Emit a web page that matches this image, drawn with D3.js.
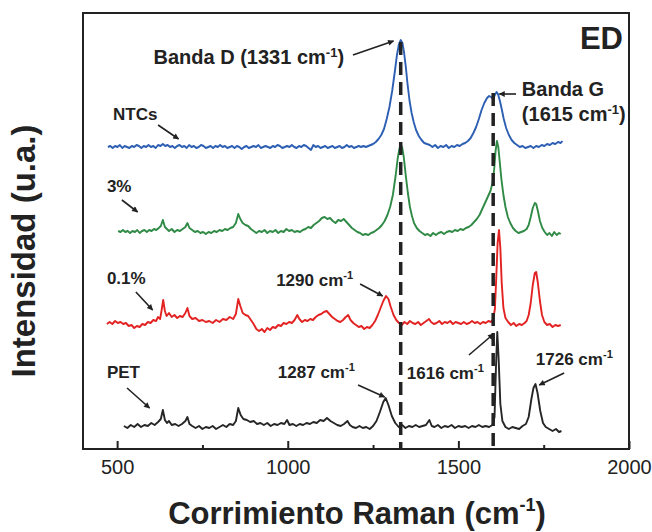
<!DOCTYPE html>
<html>
<head>
<meta charset="utf-8">
<title>Espectros Raman ED</title>
<script src="https://cdn.jsdelivr.net/npm/d3@7"></script>
<style>
  body { margin: 0; background: #fff; }
  svg { display: block; }
  text { font-family: "Liberation Sans", Arial, sans-serif; fill: #222; }
  .lbl { font-weight: bold; font-size: 17px; }
  .big { font-size: 20px; }
  .axis text { font-size: 20px; }
  .axis path { display: none; }
  .axis line { stroke: #222; stroke-width: 2; }
</style>
</head>
<body>
<svg width="652" height="532"></svg>
<script>
// Data: Raman shift (cm-1) and intensity above each curve's own baseline (u.a.)
var seriesNames = ["PET", "0.1%", "3%", "NTCs"];
var seriesColors = ["#262626", "#e32222", "#2f8a45", "#2c5fb3"];
var seriesOffsets = [20, 126, 218, 302];

var petSpectrum = [[520,3],[530,1],[540,4],[550,2],[560,5],[570,2],[580,4],[590,3],[600,6],[610,4],[620,7],[628,10],[634,19],[640,9],[646,6],[652,8],[660,4],[670,5],[680,3],[690,5],[700,8],[706,12],[712,5],[720,3],[730,1],[740,3],[750,0],[760,2],[770,1],[780,3],[790,0],[800,2],[810,4],[820,2],[830,5],[840,4],[848,8],[855,21],[862,14],[870,10],[880,9],[890,7],[900,8],[910,5],[920,6],[930,4],[940,6],[950,3],[960,5],[970,4],[980,6],[990,5],[998,9],[1005,4],[1015,5],[1025,3],[1035,5],[1045,4],[1055,6],[1065,5],[1075,7],[1085,6],[1095,9],[1105,8],[1115,11],[1125,8],[1135,6],[1145,4],[1155,3],[1165,5],[1175,8],[1182,4],[1190,2],[1200,1],[1210,3],[1220,1],[1230,2],[1240,0],[1250,3],[1260,8],[1270,17],[1280,27],[1287,31],[1295,24],[1305,13],[1315,6],[1325,2],[1335,4],[1345,1],[1355,3],[1365,2],[1375,4],[1385,2],[1395,3],[1405,4],[1415,9],[1422,3],[1430,2],[1440,4],[1450,1],[1460,3],[1470,2],[1480,4],[1490,1],[1500,3],[1510,2],[1520,3],[1530,1],[1540,3],[1550,2],[1560,4],[1570,2],[1580,3],[1590,2],[1600,4],[1606,12],[1610,60],[1614,97],[1618,70],[1623,25],[1629,8],[1638,2],[1648,0],[1658,2],[1668,1],[1678,0],[1688,3],[1698,5],[1706,12],[1714,30],[1720,41],[1726,45],[1732,36],[1740,18],[1748,6],[1756,2],[1766,0],[1776,-2],[1786,0],[1795,-3],[1802,-2]];

var pet01Spectrum = [[470,-1],[478,1],[486,-1],[494,2],[502,0],[510,1],[518,-1],[526,0],[534,-3],[542,-2],[550,-5],[558,-3],[566,-4],[574,-1],[582,-2],[590,1],[598,0],[606,3],[614,2],[620,6],[626,4],[630,12],[635,23],[640,12],[645,7],[652,10],[660,6],[668,8],[676,5],[684,7],[692,6],[700,10],[706,15],[712,7],[720,4],[730,5],[740,2],[750,3],[760,1],[770,2],[780,0],[790,3],[800,1],[810,4],[820,3],[830,6],[840,4],[848,9],[855,24],[861,17],[868,10],[876,8],[884,7],[892,3],[900,-1],[908,-6],[916,-8],[924,-6],[932,-9],[940,-5],[948,-7],[956,-4],[964,-5],[972,-2],[980,-3],[988,0],[996,-1],[1004,1],[1012,0],[1020,3],[1028,8],[1034,4],[1042,1],[1050,3],[1058,2],[1066,4],[1074,3],[1082,6],[1090,8],[1098,9],[1106,11],[1114,12],[1122,9],[1130,6],[1138,4],[1146,2],[1154,1],[1162,3],[1170,6],[1177,8],[1184,3],[1192,0],[1200,-2],[1208,-4],[1216,-3],[1224,-6],[1232,-4],[1240,-5],[1248,-2],[1256,2],[1264,8],[1272,15],[1280,22],[1288,27],[1295,24],[1302,16],[1310,8],[1318,3],[1326,0],[1334,-2],[1342,1],[1350,-1],[1358,2],[1366,0],[1374,-1],[1382,1],[1390,-2],[1398,0],[1406,2],[1414,4],[1420,1],[1428,-1],[1436,0],[1444,2],[1452,-1],[1460,1],[1468,0],[1476,2],[1484,-1],[1492,1],[1500,0],[1508,-1],[1516,1],[1524,-1],[1532,0],[1540,2],[1548,0],[1556,1],[1564,-1],[1572,1],[1580,0],[1588,2],[1596,1],[1602,4],[1607,14],[1611,45],[1615,80],[1619,93],[1623,75],[1627,40],[1632,15],[1638,5],[1646,1],[1654,-2],[1662,0],[1670,-3],[1678,-1],[1686,-2],[1694,0],[1700,2],[1706,8],[1712,20],[1718,38],[1724,50],[1728,51],[1733,40],[1739,22],[1745,8],[1752,1],[1760,-2],[1768,-1],[1776,-4],[1784,-2],[1792,-3],[1800,-2]];

var pet3Spectrum = [[503,0],[510,-1],[517,1],[524,-1],[531,0],[538,-2],[545,0],[552,-1],[559,1],[566,-2],[573,0],[580,1],[587,-1],[594,1],[601,0],[608,2],[615,1],[622,3],[628,5],[634,11],[640,4],[646,2],[652,0],[660,2],[668,-1],[676,1],[684,0],[692,2],[700,4],[706,8],[712,3],[720,1],[728,-1],[736,0],[744,-2],[752,-1],[760,-3],[768,-1],[776,-2],[784,0],[792,-1],[800,1],[808,0],[816,2],[824,1],[832,3],[840,4],[848,8],[855,17],[861,12],[868,8],[876,6],[884,5],[892,2],[900,0],[908,-2],[916,0],[924,-1],[932,1],[940,-2],[948,0],[956,-1],[964,1],[972,-2],[980,0],[988,-1],[996,2],[1004,0],[1012,1],[1020,-1],[1028,0],[1036,-1],[1044,1],[1052,2],[1060,4],[1068,3],[1076,6],[1084,8],[1092,10],[1100,13],[1108,14],[1116,12],[1124,13],[1132,10],[1140,8],[1148,11],[1156,10],[1164,12],[1172,9],[1180,6],[1188,3],[1196,1],[1204,-1],[1212,-2],[1220,-4],[1228,-3],[1236,-4],[1244,-2],[1252,-1],[1260,1],[1268,3],[1276,6],[1284,10],[1292,16],[1300,24],[1308,36],[1316,55],[1322,72],[1327,82],[1331,86],[1335,84],[1340,74],[1346,55],[1352,38],[1358,24],[1364,15],[1370,8],[1378,3],[1386,0],[1394,-2],[1402,-4],[1410,-3],[1418,-5],[1426,-2],[1434,-4],[1442,-2],[1450,-1],[1458,-3],[1466,-1],[1474,0],[1482,-1],[1490,1],[1498,0],[1506,2],[1514,1],[1522,3],[1530,4],[1538,6],[1546,9],[1554,12],[1562,16],[1570,22],[1578,28],[1586,34],[1594,40],[1600,48],[1605,62],[1609,80],[1613,90],[1617,84],[1621,70],[1626,52],[1632,36],[1638,24],[1645,14],[1652,8],[1660,3],[1668,0],[1676,-2],[1684,-1],[1692,0],[1700,2],[1706,6],[1712,14],[1718,23],[1724,28],[1728,27],[1733,20],[1739,10],[1746,3],[1753,-1],[1760,-4],[1767,-2],[1774,-5],[1781,-1],[1788,-4],[1795,-2],[1800,-3]];

var ntcSpectrum = [[473,0],[480,1],[487,-1],[494,1],[501,0],[508,2],[515,-1],[522,1],[529,0],[536,-1],[543,1],[550,0],[557,2],[564,1],[571,-1],[578,1],[585,0],[592,2],[599,0],[606,1],[613,-1],[620,2],[627,1],[634,3],[641,1],[648,2],[655,0],[662,1],[669,-1],[676,1],[683,2],[690,0],[697,1],[704,-1],[711,2],[718,0],[725,1],[732,-1],[739,0],[746,2],[753,1],[760,-1],[767,0],[774,1],[781,-1],[788,1],[795,0],[802,2],[809,0],[816,1],[823,-1],[830,0],[837,1],[844,-1],[851,1],[858,0],[865,-2],[872,0],[879,1],[886,-1],[893,0],[900,1],[907,0],[914,2],[921,-1],[928,0],[935,1],[942,0],[949,-1],[956,1],[963,0],[970,2],[977,1],[984,-1],[991,0],[998,1],[1005,0],[1012,2],[1019,0],[1026,-1],[1033,1],[1040,0],[1047,2],[1054,1],[1061,-1],[1068,-3],[1075,2],[1082,0],[1089,1],[1096,-1],[1103,0],[1110,1],[1117,-1],[1124,0],[1131,1],[1138,-1],[1145,0],[1152,1],[1159,-1],[1166,0],[1173,2],[1180,0],[1187,1],[1194,-1],[1201,0],[1208,1],[1215,0],[1222,1],[1229,0],[1236,1],[1243,2],[1250,3],[1258,5],[1266,8],[1274,12],[1282,18],[1290,28],[1298,40],[1306,56],[1314,76],[1320,92],[1326,103],[1331,107],[1336,104],[1341,94],[1346,80],[1351,63],[1357,46],[1363,34],[1369,25],[1376,17],[1384,11],[1392,7],[1400,4],[1408,3],[1416,2],[1424,0],[1432,2],[1440,-1],[1448,1],[1456,0],[1464,2],[1472,-1],[1480,1],[1488,0],[1496,2],[1504,1],[1512,3],[1520,4],[1528,6],[1536,9],[1544,14],[1552,20],[1560,28],[1568,37],[1576,44],[1584,49],[1590,51],[1596,50],[1602,48],[1607,52],[1612,55],[1616,53],[1621,47],[1627,38],[1633,28],[1640,19],[1648,12],[1656,7],[1664,4],[1672,2],[1680,0],[1688,1],[1696,-1],[1704,0],[1712,1],[1720,-1],[1728,1],[1736,0],[1744,2],[1752,1],[1760,3],[1768,2],[1776,4],[1784,3],[1792,5],[1800,4],[1805,6]];

var spectra = [petSpectrum, pet01Spectrum, pet3Spectrum, ntcSpectrum];

var majorTicks = [500, 1000, 1500, 2000];
var minorTicks = [750, 1250, 1750];
var bandLines = [1331, 1602]; // D and G band guides

var svg = d3.select("svg"),
    margin = {top: 13, right: 23, bottom: 83, left: 83},
    width = +svg.attr("width") - margin.left - margin.right,
    height = +svg.attr("height") - margin.top - margin.bottom,
    g = svg.append("g").attr("transform", "translate(" + margin.left + "," + margin.top + ")");

var x = d3.scaleLinear().domain([400, 2000]).range([0, width]);
var y = d3.scaleLinear().domain([0, height]).range([height, 0]);

svg.append("defs").append("marker")
    .attr("id", "arr")
    .attr("viewBox", "0 0 10 10")
    .attr("refX", 9).attr("refY", 5)
    .attr("markerWidth", 8).attr("markerHeight", 6)
    .attr("markerUnits", "userSpaceOnUse")
    .attr("orient", "auto")
  .append("path")
    .attr("d", "M0,0L10,5L0,10z")
    .attr("fill", "#222");

// spectra
var line = d3.line()
    .x(function(d) { return x(d[0]); })
    .y(function(d) { return y(d[1]); });

spectra.forEach(function(s, i) {
  g.append("path")
      .datum(s.map(function(p) { return [p[0], p[1] + seriesOffsets[i]]; }))
      .attr("fill", "none")
      .attr("stroke", seriesColors[i])
      .attr("stroke-width", 1.9)
      .attr("stroke-linejoin", "round")
      .attr("d", line);
});

// dashed guides for the D and G bands
var guideTops = [407, 356];
bandLines.forEach(function(b, i) {
  g.append("line")
      .attr("x1", x(b)).attr("x2", x(b))
      .attr("y1", y(guideTops[i])).attr("y2", y(0))
      .attr("stroke", "#222")
      .attr("stroke-width", 3.5)
      .attr("stroke-dasharray", "13,7");
});

// axis
g.append("g")
    .attr("class", "axis")
    .attr("transform", "translate(0," + height + ")")
    .call(d3.axisBottom(x).tickValues(majorTicks).tickSize(-8).tickPadding(11).tickFormat(d3.format("d")));

g.append("g")
    .attr("class", "axis")
    .attr("transform", "translate(0," + height + ")")
    .call(d3.axisBottom(x).tickValues(minorTicks).tickSize(-4).tickFormat(""));

g.append("rect")
    .attr("width", width).attr("height", height)
    .attr("fill", "none")
    .attr("stroke", "#222")
    .attr("stroke-width", 2);

// labels
function label(txt, wn, inten, sup, tail) {
  var t = g.append("text")
      .attr("class", "lbl")
      .attr("x", x(wn)).attr("y", y(inten));
  t.append("tspan").text(txt);
  if (sup) {
    t.append("tspan").attr("dy", -7).style("font-size", "0.65em").text("-1");
    t.append("tspan").attr("dy", 7).text(tail || "");
  }
  return t;
}
function arrow(w1, i1, w2, i2) {
  g.append("line")
      .attr("x1", x(w1)).attr("y1", y(i1))
      .attr("x2", x(w2)).attr("y2", y(i2))
      .attr("stroke", "#222")
      .attr("stroke-width", 1.6)
      .attr("marker-end", "url(#arr)");
}

label("Banda D (1331 cm", 1165, 385, true, ")").classed("big", true).attr("text-anchor", "end");
arrow(1191, 394, 1310, 408);

label("Banda G", 1686, 353).classed("big", true);
label("(1615 cm", 1686, 328, true, ")").classed("big", true);
arrow(1669, 355, 1620, 355);

label(seriesNames[3], 488, 329);
arrow(620, 324, 680, 310);
label(seriesNames[2], 470, 257);
arrow(514, 249, 560, 237);
label(seriesNames[1], 470, 165);
arrow(555, 157, 604, 139);
label(seriesNames[0], 470, 71);
arrow(529, 61, 595, 41);

label("1290 cm", 966, 163, true);
arrow(1212, 165, 1278, 153);
label("1287 cm", 971, 71, true);
arrow(1206, 64, 1284, 52);
label("1616 cm", 1349, 70, true);
arrow(1531, 94, 1603, 115);
label("1726 cm", 1727, 84, true);
arrow(1810, 76, 1737, 64);

g.append("text")
    .attr("x", width - 6).attr("y", 36)
    .attr("text-anchor", "end")
    .style("font-size", "31px").style("font-weight", "bold")
    .text("ED");

// axis titles
var xt = svg.append("text")
    .attr("x", 357).attr("y", 524)
    .attr("text-anchor", "middle")
    .style("font-size", "31px").style("font-weight", "bold");
xt.append("tspan").text("Corrimiento Raman (cm");
xt.append("tspan").attr("dy", -13).style("font-size", "18px").text("-1");
xt.append("tspan").attr("dy", 13).text(")");

svg.append("text")
    .attr("transform", "translate(35,251) rotate(-90)")
    .attr("text-anchor", "middle")
    .style("font-size", "33px").style("font-weight", "bold")
    .text("Intensidad (u.a.)");
</script>
</body>
</html>
